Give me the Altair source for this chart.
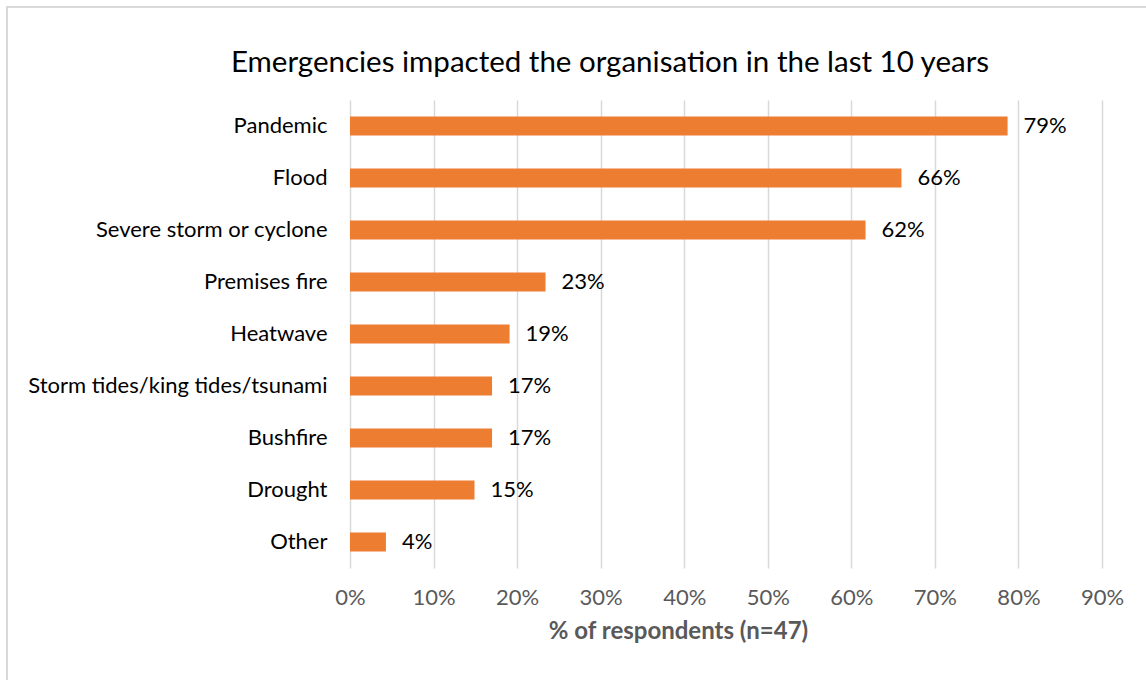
import altair as alt
import pandas as pd

categories = ["Pandemic ", "Flood", "Severe storm or cyclone", "Premises fire", "Heatwave",
              "Storm tides/king tides/tsunami", "Bushfire", "Drought", "Other"]
values = [0.787, 0.660, 0.617, 0.234, 0.191, 0.170, 0.170, 0.149, 0.043]
labels = ["79%", "66%", "62%", "23%", "19%", "17%", "17%", "15%", "4%"]
title_text = "Emergencies impacted the organisation in the last 10 years"

df = pd.DataFrame({"cat": categories, "val": values, "lab": labels})

FONT = "Lato"
W, H = 752, 468
PL, PT = 350, 100

y_enc = alt.Y("cat:N", sort=categories, title=None,
              scale=alt.Scale(paddingInner=0.63, paddingOuter=0.315),
              axis=alt.Axis(domain=False, ticks=False, grid=False, labelFontSize=22, labelColor="#000000",
                            labelFont=FONT, labelPadding=23, labelLimit=400))
x_enc = alt.X("val:Q", title="% of respondents (n=47)",
              scale=alt.Scale(domain=[0, 0.9], nice=False),
              axis=alt.Axis(format=".0%", values=[i / 10 for i in range(10)], domain=False, ticks=False,
                            grid=True, gridColor="#d9d9d9", gridWidth=1.5, labelFlush=False,
                            labelFontSize=22, labelColor="#595959", labelFont=FONT, labelPadding=19,
                            titleFontSize=24, titleColor="#595959", titleFont=FONT, titleFontWeight="bold",
                            titlePadding=11, titleX=328, titleAlign="center"))

bars = alt.Chart(df).mark_bar(color="#ED7D31").encode(x=x_enc, y=y_enc)
text = alt.Chart(df).mark_text(align="left", dx=16, fontSize=22, font=FONT, color="#000000",
                               baseline="middle").encode(x="val:Q", y=alt.Y("cat:N", sort=categories), text="lab:N")
one = pd.DataFrame({"t": [title_text]})
border = alt.Chart(one).mark_rect(fill=None, stroke="#d9d9d9", strokeWidth=2).encode(
    x=alt.value(-343), x2=alt.value(900), y=alt.value(-93), y2=alt.value(700))
title = alt.Chart(one).mark_text(align="center", baseline="middle", fontSize=29.5, font=FONT,
                                 color="#000000").encode(x=alt.value(260), y=alt.value(-37), text="t:N")

chart = alt.layer(border, bars, text, title).properties(
    width=W, height=H, background="white",
    autosize=alt.AutoSizeParams(type="none"),
    padding={"left": PL, "top": PT, "right": 1146 - PL - W, "bottom": 680 - PT - H},
).configure_view(strokeWidth=0, stroke="transparent")

chart.save("out.html", embed_options={"renderer": "svg", "actions": False})
